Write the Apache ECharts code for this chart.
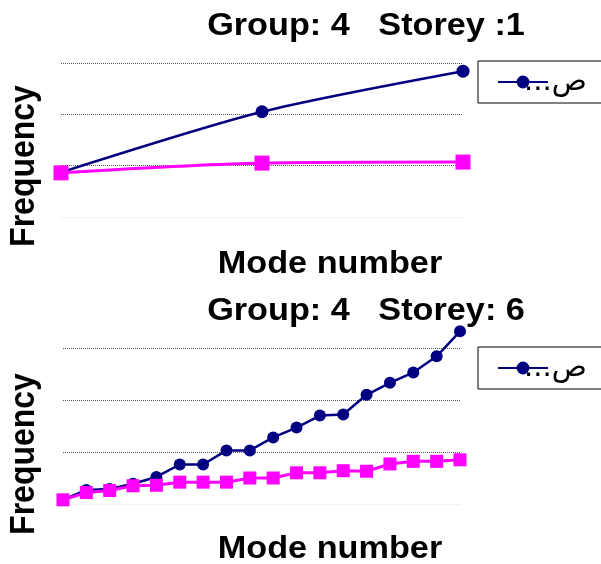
<!DOCTYPE html>
<html>
<head>
<meta charset="utf-8">
<script src="https://cdn.jsdelivr.net/npm/echarts@6/dist/echarts.min.js"></script>
<style>html,body{margin:0;padding:0;background:#fff}#c{width:601px;height:564px}</style>
</head>
<body>
<div id="c"></div>
<script>
// ---- data ----
const titles = ['Group: 4   Storey :1', 'Group: 4   Storey: 6'];
const xName = 'Mode number';
const yName = 'Frequency';
const legendName = 'ص...';
const modes1 = ['1', '2', '3'];
const blue1 = [0.87, 2.05, 2.84];
const pink1 = [0.86, 1.05, 1.07];
const modes2 = ['1','2','3','4','5','6','7','8','9','10','11','12','13','14','15','16','17','18'];
const blue2 = [0.08, 0.27, 0.29, 0.39, 0.52, 0.76, 0.76, 1.03, 1.03, 1.28, 1.47, 1.70, 1.72, 2.10, 2.33, 2.53, 2.84, 3.32];
const pink2 = [0.08, 0.22, 0.26, 0.35, 0.36, 0.42, 0.42, 0.42, 0.50, 0.50, 0.60, 0.60, 0.64, 0.63, 0.77, 0.82, 0.82, 0.85];

const NAVY = '#000080', PINK = '#FF00FF';
const F = '"Liberation Sans", Arial, sans-serif';

const chart = echarts.init(document.getElementById('c'), null, {renderer: 'canvas'});

function xAxis(gi, data) {
  return {
    type: 'category', gridIndex: gi, data: data, boundaryGap: false,
    axisLine: {show: true, lineStyle: {color: '#f2f2f2', width: 1}},
    axisTick: {show: false}, axisLabel: {show: false}, splitLine: {show: false}
  };
}
function yAxis(gi) {
  return {
    type: 'value', gridIndex: gi, min: 0, max: 3, interval: 1,
    axisLine: {show: false}, axisTick: {show: false}, axisLabel: {show: false},
    splitLine: {show: true, lineStyle: {color: '#555', type: [1, 1], width: 1}}
  };
}
function legend(top) {
  return {
    data: [legendName], left: 478, top: top, orient: 'horizontal',
    padding: [4, 30, 4, 19], itemWidth: 50, itemHeight: 16,
    borderColor: '#000', borderWidth: 1, backgroundColor: '#fff', borderRadius: 0,
    formatter: n => n + '\u200F',
    textStyle: {fontFamily: '"DejaVu Sans", sans-serif', fontSize: 29, lineHeight: 28, color: '#000', padding: [6,0,0,-29]}
  };
}
function text(t, x, y, rot) {
  const el = {type: 'text', x: x, y: y, rotation: rot || 0,
    style: {text: t, font: 'bold 32px ' + F, fill: '#000', textAlign: 'center', textVerticalAlign: 'middle'}};
  if (rot) { el.scaleY = 1.07; } else { el.scaleX = 1.07; }
  return el;
}

chart.setOption({
  animation: false,
  backgroundColor: '#fff',
  grid: [
    {left: 61, right: 138, top: 63, height: 154},
    {left: 63, right: 141, top: 348, height: 156}
  ],
  xAxis: [xAxis(0, modes1), xAxis(1, modes2)],
  yAxis: [yAxis(0), yAxis(1)],
  legend: [legend(61), legend(347)],
  series: [
    {name: legendName, type: 'line', xAxisIndex: 0, yAxisIndex: 0, data: blue1, smooth: 0.25,
     symbol: 'circle', symbolSize: 13, itemStyle: {color: NAVY}, lineStyle: {color: NAVY, width: 2.5}, clip: false},
    {name: 'pink-1', type: 'line', xAxisIndex: 0, yAxisIndex: 0, data: pink1, smooth: 0.25,
     symbol: 'rect', symbolSize: 15, itemStyle: {color: PINK}, lineStyle: {color: PINK, width: 3}, clip: false},
    {name: legendName, type: 'line', xAxisIndex: 1, yAxisIndex: 1, data: blue2,
     symbol: 'circle', symbolSize: 12, itemStyle: {color: NAVY}, lineStyle: {color: NAVY, width: 2.5}, clip: false},
    {name: 'pink-2', type: 'line', xAxisIndex: 1, yAxisIndex: 1, data: pink2,
     symbol: 'rect', symbolSize: 13, itemStyle: {color: PINK}, lineStyle: {color: PINK, width: 3}, clip: false}
  ],
  graphic: [
    text(titles[0], 366, 26),
    text(titles[1], 366, 311),
    text(xName, 330, 264),
    text(xName, 330, 549),
    text(yName, 25, 166, Math.PI / 2),
    text(yName, 25, 454, Math.PI / 2)
  ]
});
</script>
</body>
</html>
